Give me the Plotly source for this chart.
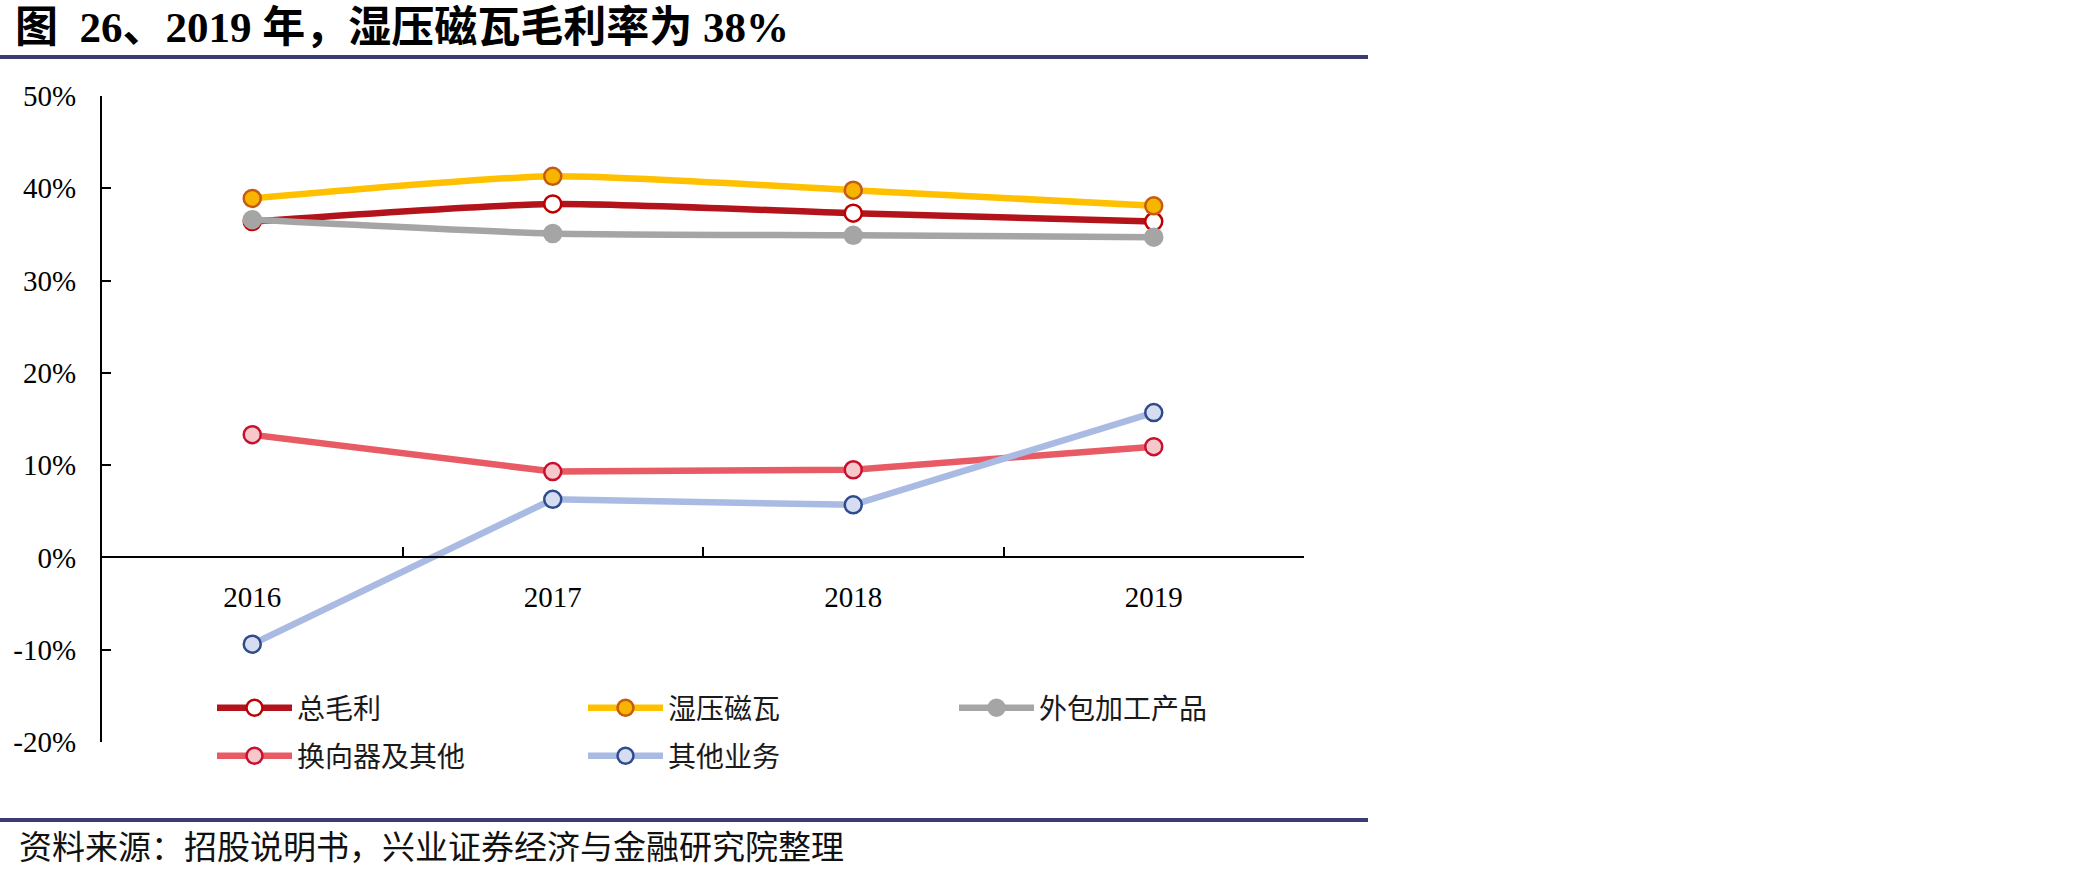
import plotly.graph_objects as go

# ---------------- data ----------------
years = ["2016", "2017", "2018", "2019"]
total_margin = [36.4, 38.3, 37.3, 36.4]          # 总毛利
wet_magnet = [38.9, 41.3, 39.8, 38.1]             # 湿压磁瓦
outsourced = [36.6, 35.1, 34.9, 34.7]             # 外包加工产品
commutator = [13.3, 9.3, 9.5, 12.0]               # 换向器及其他
other_biz = [-9.4, 6.3, 5.7, 15.7]                # 其他业务

series_names = ["总毛利", "湿压磁瓦", "外包加工产品", "换向器及其他", "其他业务"]
y_tickvals = [-20, -10, 0, 10, 20, 30, 40, 50]
y_ticktext = ["-20%", "-10%", "0%", "10%", "20%", "30%", "40%", "50%"]
y_range = [-20, 50]

title_text = "图\u00a0 26、2019 年，湿压磁瓦毛利率为 38%"
source_text = "资料来源：招股说明书，兴业证券经济与金融研究院整理"

# ---------------- layout geometry (pixels) ----------------
W, H = 2073, 875
L, R, T, B = 102, 1304, 96, 742
pw, ph = R - L, B - T


def px_x(x):
    return (x - L) / pw


def px_y(y):
    return (B - y) / ph


SERIF_CJK = "Liberation Serif, Noto Sans CJK SC"
CJK = "Noto Sans CJK SC, Liberation Serif"

MS = 17
styles = [
    dict(line=dict(color="#B3141C", width=6.5, shape="spline", smoothing=0.6),
         marker=dict(color="#FFFFFF", size=MS, line=dict(color="#C00000", width=2.5)), legend="legend"),
    dict(line=dict(color="#FFC000", width=6.5, shape="spline", smoothing=0.6),
         marker=dict(color="#F7B500", size=MS, line=dict(color="#C55A11", width=2.5)), legend="legend"),
    dict(line=dict(color="#A5A5A5", width=6.5, shape="spline", smoothing=0.6),
         marker=dict(color="#A5A5A5", size=MS, line=dict(color="#A5A5A5", width=2.5)), legend="legend"),
    dict(line=dict(color="#E85A64", width=6.5),
         marker=dict(color="#F6C8CC", size=MS, line=dict(color="#C8102E", width=2.5)), legend="legend2"),
    dict(line=dict(color="#A9BAE3", width=6.5),
         marker=dict(color="#D6DDF0", size=MS, line=dict(color="#2E4B8E", width=2.5)), legend="legend2"),
]
values = [total_margin, wet_magnet, outsourced, commutator, other_biz]

fig = go.Figure()
for name, vals, st in zip(series_names, values, styles):
    fig.add_trace(go.Scatter(
        x=years, y=vals, name=name, mode="lines+markers",
        line=st["line"], marker=st["marker"], legend=st["legend"],
        cliponaxis=False,
    ))

zero_pos = (0 - y_range[0]) / (y_range[1] - y_range[0])

legend_common = dict(
    orientation="h", xanchor="left", yanchor="middle",
    font=dict(family=CJK, size=28, color="#1a1a1a"),
    itemwidth=75, entrywidth=281, entrywidthmode="pixels",
    bgcolor="rgba(0,0,0,0)", traceorder="normal",
)

fig.update_layout(
    width=W, height=H,
    margin=dict(l=L, r=W - R, t=T, b=H - B, pad=0),
    paper_bgcolor="white", plot_bgcolor="white",
    showlegend=True,
    legend=dict(x=px_x(212), y=px_y(708), **legend_common),
    legend2=dict(x=px_x(212), y=px_y(756), **legend_common),
    xaxis=dict(
        type="category", range=[-0.5, len(years) - 0.5],
        anchor="free", position=zero_pos,
        showline=True, linecolor="black", linewidth=2,
        ticks="inside", tickson="boundaries", ticklen=9, tickwidth=2, tickcolor="black",
        tickfont=dict(family="Liberation Serif", size=29, color="black"),
        ticklabelstandoff=14,
        showgrid=False, zeroline=False,
    ),
    yaxis=dict(
        range=y_range, tickvals=y_tickvals, ticktext=y_ticktext,
        showline=True, linecolor="black", linewidth=2,
        ticks="inside", ticklen=9, tickwidth=2, tickcolor="black",
        tickfont=dict(family="Liberation Serif", size=29, color="black"),
        ticklabelstandoff=18,
        showgrid=False, zeroline=False,
    ),
    annotations=[
        dict(text="<b>" + title_text + "</b>", xref="paper", yref="paper",
             x=px_x(13), y=px_y(27), xanchor="left", yanchor="middle",
             showarrow=False, font=dict(family=SERIF_CJK, size=43, color="black")),
        dict(text=source_text, xref="paper", yref="paper",
             x=px_x(17), y=px_y(845), xanchor="left", yanchor="middle",
             showarrow=False, font=dict(family=CJK, size=33, color="#111111")),
    ],
    shapes=[
        dict(type="line", xref="paper", yref="paper",
             x0=px_x(0), x1=px_x(1368), y0=px_y(57), y1=px_y(57),
             line=dict(color="#3A3C73", width=4)),
        dict(type="line", xref="paper", yref="paper",
             x0=px_x(0), x1=px_x(1368), y0=px_y(820), y1=px_y(820),
             line=dict(color="#3A3C73", width=4)),
    ],
)

fig.write_html("out.html")
